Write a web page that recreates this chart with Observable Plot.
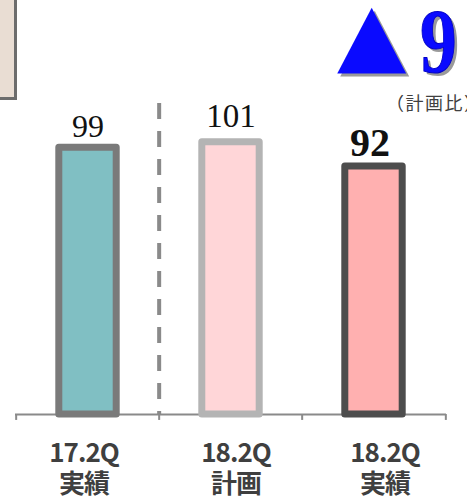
<!DOCTYPE html>
<html>
<head>
<meta charset="utf-8">
<script src="https://cdn.jsdelivr.net/npm/d3@7"></script>
<script src="https://cdn.jsdelivr.net/npm/@observablehq/plot@0.6"></script>
<style>
  html, body { margin: 0; padding: 0; background: #fff; }
  #wrap { position: relative; width: 467px; height: 499px; overflow: hidden; }
  #box { position: absolute; left: 0; top: 0; width: 14px; height: 97px; background: #e9ddd3;
         border-right: 3px solid #6c6c6c; border-bottom: 3px solid #6c6c6c; }
  #anno { position: absolute; left: 0; top: 0; }
  .catlab { letter-spacing: -1px; }
</style>
</head>
<body>
<div id="wrap">
  <div id="chart"></div>
  <div id="box"></div>
  <svg id="anno" width="467" height="130"></svg>
</div>
<script>
// ---- data ----
const periods = ["17.2Q", "18.2Q", "18.2Q"];
const kinds = ["実績", "計画", "実績"];
const values = [99, 101, 92];
const deltaLabel = "▲9";
const deltaNote = "（計画比）";

// ---- styles (not data) ----
const fills = ["#80bfc3", "#ffd6d8", "#ffb0b0"];
const strokes = ["#7a7a7a", "#b4b4b4", "#4d4d4d"];
const valueFont = [
  { size: 32, weight: "normal", dy: -11, dx: 0 },
  { size: 33, weight: "normal", dy: -15, dx: 0 },
  { size: 40, weight: "bold", dy: -11, dx: -4 }
];
const catDx = [-4, 5, 11];

const cats = periods.map((p, i) => `${p}\n${kinds[i]}`);
const rows = cats.map((c, i) => ({ cat: c, value: values[i], fill: fills[i], stroke: strokes[i], i }));

const W = 467, H = 499, mL = 15, mR = 21, mT = 103, mB = 85;
const bw = (W - mL - mR) / cats.length;

const marks = [
  Plot.ruleY([0], { stroke: "#8a8a8a", strokeWidth: 2 }),
  // ticks at band boundaries
  Plot.ruleX(cats, { x: d => d, dx: -bw / 2, y1: 0, y2: -2.2, stroke: "#8a8a8a", strokeWidth: 2 }),
  Plot.ruleX([cats[cats.length - 1]], { x: d => d, dx: bw / 2, y1: 0, y2: -2.2, stroke: "#8a8a8a", strokeWidth: 2 }),
  // dashed divider between actual and plan
  Plot.ruleX([cats[1]], { x: d => d, dx: -bw / 2, stroke: "#8a8a8a", strokeWidth: 4, strokeDasharray: "16,12" }),
  Plot.barY(rows, {
    x: "cat", y: "value", fill: d => d.fill, stroke: d => d.stroke,
    strokeWidth: 7, strokeLinejoin: "round", insetLeft: 42.8, insetRight: 42.8
  }),
  Plot.text(rows, {
    x: "cat", y: 0, text: "cat", lineAnchor: "bottom", dy: 78, lineHeight: 1.19,
    fontSize: 26, fontWeight: "bold", fontFamily: "Noto Sans CJK JP", fill: "#3f3f3f",
    className: "catlab"
  })
];
// value labels, each with its own typography
rows.forEach((r, i) => {
  marks.push(Plot.text([r], {
    x: "cat", y: "value", text: d => String(d.value), lineAnchor: "bottom",
    dy: valueFont[i].dy, dx: valueFont[i].dx, fontSize: valueFont[i].size,
    fontWeight: valueFont[i].weight, fontFamily: "Liberation Serif", fill: "#111"
  }));
});

const chart = Plot.plot({
  width: W, height: H,
  marginLeft: mL, marginRight: mR, marginTop: mT, marginBottom: mB,
  style: { background: "transparent", overflow: "visible" },
  x: { domain: cats, padding: 0, axis: null },
  y: { domain: [0, 115.4], axis: null },
  marks
});
document.getElementById("chart").appendChild(chart);

// shift category labels individually
d3.select(chart).selectAll("g.catlab, .catlab")
  .selectAll("text").attr("transform", function (d, j) {
    const t = d3.select(this).attr("transform") || "";
    return t + ` translate(${catDx[j]},0)`;
  });

// annotation: ▲9 (計画比)
const anno = d3.select("#anno");
[["#9a9a9a", 3], ["#0a0aff", 0]].forEach(([c, o]) => {
  anno.append("text").text(deltaLabel[0])
    .attr("transform", `translate(${337 + o},${63 + o}) scale(1.05,1)`)
    .attr("font-family", "DejaVu Sans").attr("font-size", 86).attr("fill", c);
  anno.append("text").text(deltaLabel.slice(1))
    .attr("transform", `translate(${420 + o},${72 + o}) scale(0.8,1)`)
    .attr("font-family", "Liberation Serif").attr("font-weight", "bold").attr("font-size", 92)
    .attr("fill", c).attr("stroke", o ? "none" : "#0000c8").attr("stroke-width", 1);
});
anno.append("text").text(deltaNote).attr("x", 386).attr("y", 110)
  .attr("font-family", "Noto Sans CJK JP").attr("font-size", 18).attr("letter-spacing", 1.5)
  .attr("fill", "#404040");
</script>
</body>
</html>
